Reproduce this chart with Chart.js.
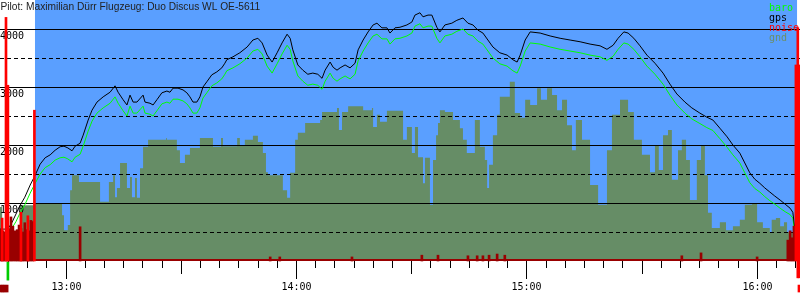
<!DOCTYPE html>
<html>
<head>
<meta charset="utf-8">
<script src="https://cdn.jsdelivr.net/npm/chart.js@4.4.0/dist/chart.umd.min.js"></script>
<style>
  html, body { margin: 0; padding: 0; background: #fff; }
  #chart { display: block; }
</style>
</head>
<body>
<canvas id="chart" width="800" height="300"></canvas>
<script>
// Flight log, time in minutes since midnight, altitudes in metres
const flightTimes = [
    762.9, 765.0, 766.1, 767.1, 768.1, 769.4, 770.8, 772.1, 773.4, 774.7,
    776.0, 777.3, 778.6, 779.6, 780.6, 781.7, 782.5, 783.8, 784.6, 785.9,
    786.9, 788.2, 789.8, 791.6, 792.9, 793.7, 795.0, 796.0, 796.8, 797.6,
    798.6, 800.2, 800.7, 802.0, 802.8, 803.8, 805.1, 806.4, 807.2, 808.0,
    809.3, 810.6, 811.6, 812.4, 813.2, 814.2, 815.0, 815.8, 816.8, 818.1,
    819.4, 820.7, 821.5, 822.0, 823.6, 825.4, 827.3, 828.8, 830.1, 831.2,
    832.5, 833.8, 835.1, 836.4, 837.7, 838.5, 839.2, 840.5, 841.8, 843.1,
    844.4, 845.7, 846.8, 847.6, 848.9, 849.7, 850.7, 851.5, 852.8, 854.1,
    855.4, 856.2, 857.5, 858.8, 860.1, 861.1, 862.4, 863.7, 864.5, 865.8,
    867.1, 868.9, 870.2, 871.0, 872.3, 873.1, 874.4, 875.4, 876.7, 877.5,
    878.8, 880.6, 881.9, 883.5, 884.8, 886.1, 887.4, 888.7, 890.0, 891.3,
    893.1, 895.0, 896.5, 897.6, 898.4, 899.7, 901.0, 903.6, 906.2, 908.8,
    911.4, 914.0, 916.6, 919.2, 921.0, 922.6, 923.9, 925.4, 926.5, 928.0,
    929.6, 931.4, 933.5, 935.6, 937.4, 939.2, 941.3, 943.1, 945.2, 947.0,
    948.6, 950.4, 952.3, 953.8, 955.6, 956.9, 958.2, 959.5, 960.8, 962.1,
    963.4, 964.7, 966.1, 967.4, 968.7, 969.4, 969.9, 970.5, 971.3
];

const gpsAlt = [
    550, 550, 670, 810, 950, 1100, 1310, 1480, 1670, 1780,
    1830, 1910, 1970, 1980, 1950, 1900, 1980, 2030, 2170, 2430,
    2600, 2740, 2830, 2910, 3020, 2910, 2780, 2690, 2860, 2740,
    2740, 2860, 2740, 2720, 2690, 2780, 2900, 2930, 2910, 2980,
    2980, 2950, 2900, 2830, 2740, 2740, 2830, 3000, 3090, 3210,
    3260, 3330, 3410, 3470, 3520, 3590, 3690, 3810, 3840, 3760,
    3550, 3430, 3590, 3760, 3910, 3840, 3640, 3380, 3290, 3220,
    3240, 3220, 3150, 3290, 3430, 3340, 3290, 3330, 3380, 3330,
    3410, 3640, 3810, 3950, 4070, 4100, 4020, 4020, 3930, 4020,
    4030, 4070, 4120, 4240, 4280, 4210, 4240, 4240, 4030, 3950,
    4070, 4100, 4150, 4190, 4100, 4070, 3980, 3930, 3810, 3690,
    3590, 3550, 3470, 3430, 3550, 3810, 3950, 3930, 3880, 3840,
    3810, 3780, 3740, 3710, 3650, 3720, 3840, 3950, 3930, 3840,
    3710, 3550, 3410, 3240, 3050, 2880, 2740, 2640, 2550, 2480,
    2430, 2290, 2140, 2000, 1860, 1690, 1520, 1410, 1340, 1260,
    1190, 1120, 1050, 980, 910, 840, 570, 550, 550
];

const baroAlt = [
    460, 460, 570, 680, 820, 970, 1170, 1340, 1500, 1610,
    1660, 1740, 1780, 1790, 1760, 1710, 1790, 1840, 1980, 2240,
    2410, 2550, 2640, 2720, 2830, 2720, 2590, 2500, 2670, 2550,
    2550, 2670, 2550, 2530, 2500, 2590, 2710, 2740, 2720, 2790,
    2790, 2760, 2710, 2640, 2550, 2550, 2640, 2810, 2900, 3020,
    3070, 3140, 3220, 3280, 3330, 3400, 3500, 3620, 3650, 3570,
    3360, 3240, 3400, 3570, 3720, 3650, 3450, 3190, 3100, 3030,
    3050, 3030, 2960, 3100, 3240, 3150, 3100, 3140, 3190, 3140,
    3220, 3450, 3620, 3760, 3880, 3910, 3830, 3830, 3740, 3830,
    3840, 3880, 3930, 4050, 4090, 4020, 4050, 4050, 3840, 3760,
    3880, 3910, 3960, 4000, 3910, 3880, 3790, 3740, 3620, 3500,
    3400, 3360, 3280, 3240, 3360, 3620, 3760, 3740, 3690, 3650,
    3620, 3590, 3550, 3520, 3460, 3530, 3650, 3760, 3740, 3650,
    3520, 3360, 3220, 3050, 2860, 2690, 2550, 2450, 2370, 2300,
    2250, 2110, 1960, 1830, 1690, 1520, 1350, 1250, 1190, 1110,
    1040, 980, 910, 850, 800, 740, 500, 470, 470
];

// Terrain under the track (stepped)
const gndTimes = [
    762.9, 763.5, 768.1, 772.1, 779.1, 779.6, 780.6, 781.2, 781.7, 783.5,
    789.0, 791.3, 792.4, 792.9, 793.4, 794.2, 796.0, 796.8, 797.3, 798.1,
    798.6, 799.4, 800.2, 801.5, 806.2, 806.4, 809.0, 809.8, 811.1, 812.4,
    815.0, 818.4, 820.5, 821.0, 824.7, 825.4, 826.7, 828.8, 830.1, 831.4,
    832.2, 832.7, 836.6, 837.7, 838.5, 839.8, 840.5, 842.4, 846.3, 846.8,
    850.7, 851.2, 852.0, 853.6, 857.5, 859.8, 860.1, 861.1, 861.9, 863.7,
    867.9, 868.9, 870.2, 871.0, 871.8, 873.1, 873.6, 874.9, 875.7, 876.5,
    877.0, 877.5, 878.8, 880.9, 882.7, 883.5, 884.5, 886.6, 887.9, 889.2,
    889.8, 890.3, 891.3, 892.4, 893.1, 895.7, 897.0, 898.4, 899.7, 901.0,
    902.8, 903.8, 905.4, 906.7, 908.0, 909.3, 910.6, 911.9, 912.9, 914.5,
    916.6, 918.7, 921.0, 922.3, 924.4, 926.5, 928.0, 930.1, 932.2, 933.5,
    934.5, 935.6, 936.9, 937.9, 939.5, 940.5, 941.6, 942.6, 944.4, 945.5,
    946.5, 947.3, 948.3, 950.4, 952.0, 953.8, 955.6, 956.9, 958.8, 960.1,
    961.6, 963.4, 963.9, 965.0, 966.1, 967.1, 967.9, 971.3
];

const gndAlt = [
    930, 470, 960, 1000, 790, 530, 620, 1220, 1480, 1360,
    1020, 1360, 1480, 1100, 1260, 1690, 1260, 1450, 1100, 1430,
    1090, 1600, 1970, 2090, 2120, 2090, 1910, 1690, 1830, 1950,
    2120, 1970, 2120, 1980, 2120, 2000, 2090, 2160, 2050, 1860,
    1530, 1480, 1220, 1090, 1520, 2090, 2210, 2380, 2430, 2570,
    2640, 2260, 2570, 2670, 2600, 2640, 2310, 2520, 2400, 2590,
    2090, 2310, 1860, 2310, 1790, 1340, 1780, 970, 1740, 2170,
    2380, 2600, 2570, 2430, 2290, 2090, 1860, 2430, 1970, 1740,
    1260, 1660, 2170, 2520, 2830, 3090, 2550, 2470, 2780, 2690,
    2980, 2780, 2980, 2860, 2600, 2780, 2340, 1910, 2430, 2090,
    1310, 970, 1910, 2520, 2780, 2570, 2090, 1830, 1530, 2000,
    1570, 2170, 2260, 1400, 1910, 2090, 1740, 1050, 1740, 2000,
    1480, 830, 570, 670, 530, 600, 710, 970, 1000, 670,
    570, 500, 710, 740, 600, 670, 500, 500
];

// Engine noise, normal level (dark) and loud (bright)
const noiseLowTimes = [
    763.2, 763.7, 764.2, 764.8, 765.3, 765.8, 766.3, 766.9, 767.4, 767.9,
    768.4, 768.9, 769.4, 770.0, 770.5, 771.0, 771.5,
    783.8, 833.3, 835.8, 854.6, 872.8, 877.0, 884.8, 887.2, 888.7, 890.3,
    892.4, 894.4, 940.5, 945.5, 960.1,
    968.1, 968.7, 969.2, 969.7
];
const noiseLowLevel = [
    540, 520, 500, 520, 560, 760, 600, 520, 540, 620,
    560, 500, 660, 540, 520, 700, 680,
    590, 70, 70, 70, 100, 100, 90, 90, 90, 100,
    120, 100, 90, 140, 70,
    360, 520, 400, 600
];
const noiseHighTimes = [763.5, 764.5, 765.0, 768.4, 770.2, 771.9, 970.2, 970.7, 971.0];
const noiseHighLevel = [740, 4200, 3030, 840, 780, 2600, 3380, 4020, 3380];
const noiseHighBase = [0, 0, 0, 0, 0, 0, 0, -290, -290];

// Marks under the time axis (release, start, end)
const towMarkTimes = [765.0];
const towMarkRange = [-330, -20];
const startMarkTimes = [763.2, 763.7, 764.2, 764.8];
const endMarkTimes = [971.0];
const trackMarkRange = [-535, -415];

const takeoffTime = 772.05;
const landingTime = 970.5;
const timeMin = 762.94;
const timeMax = 971.27;

const yTickValues = [1000, 2000, 3000, 4000];
const yTickLabels = ['1000', '2000', '3000', '4000'];
const xTickTimes = [780, 840, 900, 960];
const xTickLabels = ['13:00', '14:00', '15:00', '16:00'];

const titleText = 'Pilot: Maximilian Dürr Flugzeug: Duo Discus WL OE-5611';
const legendLabels = ['baro', 'gps', 'noise', 'gnd'];

const SKY = '#5a9fff';
const GND = '#668d66';
const DARKRED = '#990000';
const MONO = '10px "DejaVu Sans Mono", monospace';

function points(times, values) {
    return times.map((t, i) => ({ x: t, y: values[i] }));
}

function ranges(times, lows, highs) {
    return times.map((t, i) => ({ x: t, y: [lows[i], highs[i]] }));
}

// Background, grid, axis and text
const flightDecor = {
    id: 'flightDecor',
    beforeDraw(chart) {
        const { ctx, chartArea: a, scales: { x } } = chart;
        ctx.save();
        ctx.fillStyle = '#fff';
        ctx.fillRect(0, 0, chart.width, chart.height);
        const x0 = x.getPixelForValue(takeoffTime);
        const x1 = x.getPixelForValue(landingTime);
        ctx.fillStyle = SKY;
        ctx.fillRect(x0, a.top, x1 - x0, a.bottom - a.top);
        ctx.restore();
    },
    afterDatasetDraw(chart, args) {
        if (args.index !== 0) return; // grid sits on the terrain, under the tracks
        const { ctx, chartArea: a, scales: { x, y } } = chart;
        ctx.save();
        ctx.strokeStyle = '#000';
        ctx.lineWidth = 1;
        for (let v = 500; v <= 4000; v += 500) {
            const py = Math.round(y.getPixelForValue(v)) + 0.5;
            ctx.setLineDash(v % 1000 === 0 ? [] : [4, 3]);
            ctx.beginPath();
            ctx.moveTo(a.left, py);
            ctx.lineTo(a.right, py);
            ctx.stroke();
        }
        ctx.setLineDash([]);

        ctx.font = MONO;
        ctx.fillStyle = '#000';
        ctx.textAlign = 'left';
        ctx.textBaseline = 'alphabetic';
        yTickValues.forEach((v, i) => {
            ctx.fillText(yTickLabels[i], 0, Math.round(y.getPixelForValue(v)) + 10);
        });

        // time axis
        ctx.fillStyle = DARKRED;
        ctx.fillRect(a.left, a.bottom - 2, a.right - a.left, 2);
        ctx.strokeStyle = '#000';
        for (let t = 765; t <= timeMax; t += 5) {
            const px = Math.round(x.getPixelForValue(t)) + 0.5;
            const len = t % 60 === 0 ? 18 : (t % 30 === 0 ? 13 : 7);
            ctx.beginPath();
            ctx.moveTo(px, a.bottom);
            ctx.lineTo(px, a.bottom + len);
            ctx.stroke();
        }
        ctx.fillStyle = '#000';
        ctx.textAlign = 'center';
        xTickTimes.forEach((t, i) => {
            ctx.fillText(xTickLabels[i], Math.round(x.getPixelForValue(t)) + 0.5, a.bottom + 29);
        });
        ctx.restore();
    },
    afterDraw(chart) {
        const { ctx } = chart;
        ctx.save();
        ctx.font = '10.2px "Liberation Sans", Arial, sans-serif';
        ctx.fillStyle = '#222';
        ctx.textAlign = 'left';
        ctx.textBaseline = 'alphabetic';
        ctx.fillText(titleText, 0.5, 10);

        ctx.font = MONO;
        const colors = ['#00ff00', '#000000', '#ff0000', '#6b8f6b'];
        legendLabels.forEach((label, i) => {
            ctx.fillStyle = colors[i];
            ctx.fillText(label, 769, 10.6 + i * 10);
        });
        ctx.restore();
    }
};

function initChart() {
    const canvas = document.getElementById('chart');
    const ctx = canvas.getContext('2d');
    if (!ctx) return;

    const barStyle = {
        type: 'bar',
        grouped: false,
        barThickness: 2,
        borderWidth: 0,
        clip: false
    };

    new Chart(ctx, {
        type: 'line',
        data: {
            datasets: [
                {
                    label: 'gnd',
                    data: points(gndTimes, gndAlt),
                    stepped: true,
                    fill: 'origin',
                    backgroundColor: GND,
                    borderColor: 'rgba(0,0,0,0)',
                    borderWidth: 0,
                    pointRadius: 0,
                    order: 5
                },
                {
                    label: 'baro',
                    data: points(flightTimes, baroAlt),
                    borderColor: '#00ff00',
                    borderWidth: 1,
                    pointRadius: 0,
                    tension: 0,
                    fill: false,
                    order: 3
                },
                {
                    label: 'gps',
                    data: points(flightTimes, gpsAlt),
                    borderColor: '#000000',
                    borderWidth: 1,
                    pointRadius: 0,
                    tension: 0,
                    fill: false,
                    order: 2
                },
                Object.assign({
                    label: 'noise',
                    data: points(noiseLowTimes, noiseLowLevel)
                        .concat(ranges(startMarkTimes, startMarkTimes.map(() => trackMarkRange[0]), startMarkTimes.map(() => trackMarkRange[1]))),
                    backgroundColor: DARKRED,
                    order: 1
                }, barStyle),
                Object.assign({
                    label: 'noise loud',
                    data: ranges(noiseHighTimes, noiseHighBase, noiseHighLevel)
                        .concat(ranges(endMarkTimes, endMarkTimes.map(() => trackMarkRange[0]), endMarkTimes.map(() => trackMarkRange[1]))),
                    backgroundColor: '#ff0000',
                    order: 0
                }, barStyle),
                Object.assign({
                    label: 'release',
                    data: ranges(towMarkTimes, towMarkTimes.map(() => towMarkRange[0]), towMarkTimes.map(() => towMarkRange[1])),
                    backgroundColor: '#00cc00',
                    order: 0
                }, barStyle)
            ]
        },
        options: {
            responsive: false,
            animation: false,
            devicePixelRatio: 1,
            events: [],
            layout: { padding: { left: 0, right: 0, top: 0, bottom: 39 } },
            scales: {
                x: { type: 'linear', min: timeMin, max: timeMax, display: false, offset: false },
                y: { type: 'linear', min: 0, max: 4500, display: false }
            },
            plugins: {
                legend: { display: false },
                tooltip: { enabled: false }
            }
        },
        plugins: [flightDecor]
    });
}

document.addEventListener('DOMContentLoaded', initChart);
</script>
</body>
</html>
